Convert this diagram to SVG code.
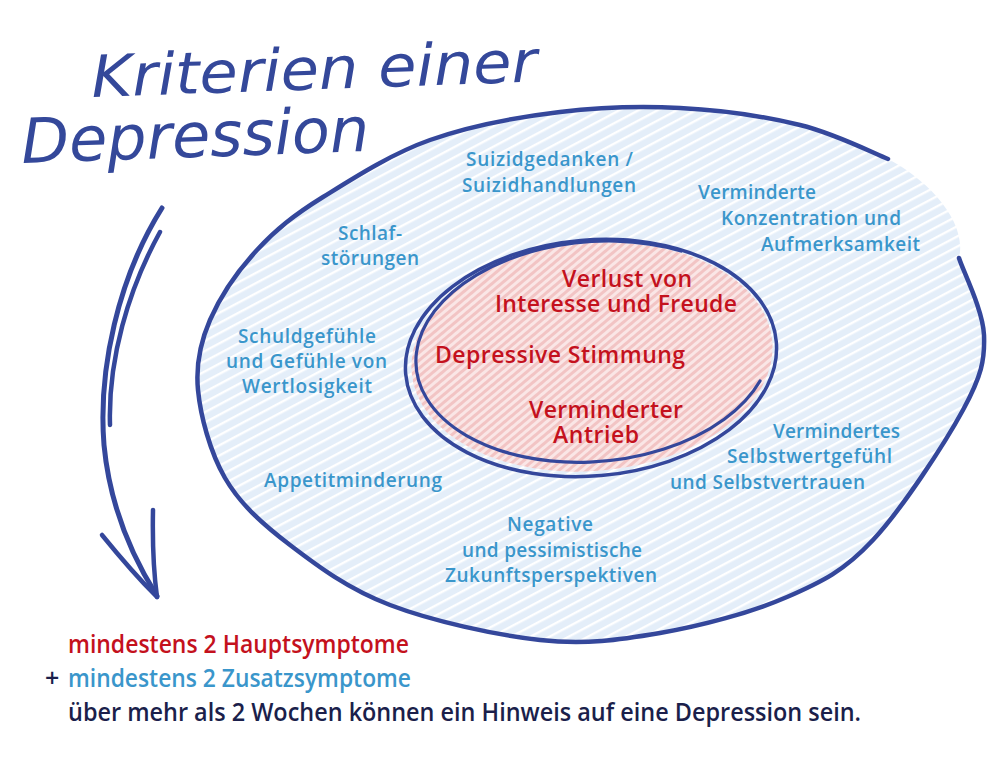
<svg xmlns="http://www.w3.org/2000/svg" width="1000" height="764" viewBox="0 0 1000 764">
  <defs>
    <pattern id="blueHatch" width="9" height="9" patternUnits="userSpaceOnUse" patternTransform="rotate(-28)">
      <rect width="9" height="9" fill="#e4eef9"/>
      <rect width="9" height="2.4" fill="#ffffff"/>
    </pattern>
    <pattern id="pinkHatch" width="8" height="6" patternUnits="userSpaceOnUse" patternTransform="rotate(-35)">
      <rect width="8" height="6" fill="#fae6e6"/>
      <rect width="8" height="3" fill="#f2c4c4"/>
    </pattern>
    <style>
      .ink { fill: none; stroke: #34479b; stroke-linecap: round; stroke-linejoin: round; }
      .lbl { font-family: "Open Sans", "Liberation Sans", sans-serif; font-weight: 600; }
      .blue { fill: #3a96cb; font-size: 19px; }
      .red { fill: #c4111d; font-size: 23px; }
      .foot { font-size: 25px; }
      .hand { font-family: "DejaVu Sans", "Liberation Sans", sans-serif; font-style: oblique; fill: #34489a; }
    </style>
  </defs>
  <rect width="1000" height="764" fill="#ffffff"/>

  <g id="title">
    <text class="hand" x="92" y="97" font-size="58" textLength="446" lengthAdjust="spacingAndGlyphs" transform="rotate(-2 92 97)">Kriterien einer</text>
    <text class="hand" x="22" y="163" font-size="62" textLength="348" lengthAdjust="spacingAndGlyphs" transform="rotate(-2 22 163)">Depression</text>
  </g>

  <g id="outer-ellipse">
    <path fill="url(#blueHatch)" d="M959,258 C963,271 983,310 984,335 C985,360 981.5,376 963,410 C944.5,444 902,509 873,540 C844,571 822.5,581.5 787,597 C751.5,612.5 701,626 660,633 C619,640 585,645 540,640 C495,635 432,621 390,605 C348,589 317.5,566 290,545 C262.5,524 240,504 225,478 C210,452 200.5,416 198,390 C195.5,364 200,343 210,320 C220,297 238,270.5 257,250 C276,229.5 294,215 323,197 C352,179 390.5,154 430,140 C469.5,126 518,117 560,112 C602,107 640,106 680,108 C720,110 765,116.5 800,125 C835,133.5 873,153 888,159 C925,178 968,220 959,258 Z"/>
    <path class="ink" stroke-width="4.5" d="M959,258 C963,271 983,310 984,335 C985,360 981.5,376 963,410 C944.5,444 902,509 873,540 C844,571 822.5,581.5 787,597 C751.5,612.5 701,626 660,633 C619,640 585,645 540,640 C495,635 432,621 390,605 C348,589 317.5,566 290,545 C262.5,524 240,504 225,478 C210,452 200.5,416 198,390 C195.5,364 200,343 210,320 C220,297 238,270.5 257,250 C276,229.5 294,215 323,197 C352,179 390.5,154 430,140 C469.5,126 518,117 560,112 C602,107 640,106 680,108 C720,110 765,116.5 800,125 C835,133.5 873,153 888,159"/>
  </g>

  <g id="inner-ellipse">
    <ellipse cx="592" cy="357" rx="181" ry="114" transform="rotate(-5 592 357)" fill="url(#pinkHatch)"/>
    <ellipse class="ink" stroke-width="3.5" cx="591" cy="358" rx="186" ry="118" transform="rotate(-5 591 358)"/>
    <path class="ink" stroke-width="3.2" d="M681,251 A178 110 -5 1 0 760,381"/>
  </g>

  <g id="main-symptoms">
    <g id="h-interesse">
      <text class="lbl red" x="562" y="287" textLength="130" lengthAdjust="spacing">Verlust von</text>
      <text class="lbl red" x="495" y="312" textLength="242" lengthAdjust="spacing">Interesse und Freude</text>
    </g>
    <g id="h-stimmung">
      <text class="lbl red" x="435" y="363" textLength="250" lengthAdjust="spacing">Depressive Stimmung</text>
    </g>
    <g id="h-antrieb">
      <text class="lbl red" x="529" y="418" textLength="154" lengthAdjust="spacing">Verminderter</text>
      <text class="lbl red" x="553" y="443" textLength="86" lengthAdjust="spacing">Antrieb</text>
    </g>
  </g>

  <g id="additional-symptoms">
    <g id="z-suizid">
      <text class="lbl blue" x="466" y="166" textLength="167" lengthAdjust="spacing">Suizidgedanken /</text>
      <text class="lbl blue" x="462" y="192" textLength="174" lengthAdjust="spacing">Suizidhandlungen</text>
    </g>
    <g id="z-konzentration">
      <text class="lbl blue" x="698" y="199" textLength="118" lengthAdjust="spacing">Verminderte</text>
      <text class="lbl blue" x="721" y="225" textLength="180" lengthAdjust="spacing">Konzentration und</text>
      <text class="lbl blue" x="761" y="251" textLength="159" lengthAdjust="spacing">Aufmerksamkeit</text>
    </g>
    <g id="z-schlaf">
      <text class="lbl blue" x="338" y="240" textLength="64" lengthAdjust="spacing">Schlaf-</text>
      <text class="lbl blue" x="321" y="265" textLength="98" lengthAdjust="spacing">störungen</text>
    </g>
    <g id="z-schuld">
      <text class="lbl blue" x="238" y="343" textLength="138" lengthAdjust="spacing">Schuldgefühle</text>
      <text class="lbl blue" x="226" y="368" textLength="161" lengthAdjust="spacing">und Gefühle von</text>
      <text class="lbl blue" x="242" y="393" textLength="130" lengthAdjust="spacing">Wertlosigkeit</text>
    </g>
    <g id="z-appetit">
      <text class="lbl blue" x="264" y="487" textLength="178" lengthAdjust="spacing">Appetitminderung</text>
    </g>
    <g id="z-selbstwert">
      <text class="lbl blue" x="773" y="438" textLength="127" lengthAdjust="spacing">Vermindertes</text>
      <text class="lbl blue" x="727" y="463" textLength="165" lengthAdjust="spacing">Selbstwertgefühl</text>
      <text class="lbl blue" x="670" y="489" textLength="195" lengthAdjust="spacing">und Selbstvertrauen</text>
    </g>
    <g id="z-zukunft">
      <text class="lbl blue" x="507" y="531" textLength="86" lengthAdjust="spacing">Negative</text>
      <text class="lbl blue" x="462" y="557" textLength="180" lengthAdjust="spacing">und pessimistische</text>
      <text class="lbl blue" x="445" y="582" textLength="212" lengthAdjust="spacing">Zukunftsperspektiven</text>
    </g>
  </g>

  <g id="connectors">
    <path class="ink" stroke-width="5" d="M162,208 C118,278 98,370 104,445 C110,508 133,558 157,596"/>
    <path class="ink" stroke-width="4.5" d="M160,232 C128,290 108,360 110,425"/>
    <path class="ink" stroke-width="4.5" d="M102,535 Q132,572 157,597"/>
    <path class="ink" stroke-width="4.5" d="M153,510 Q152,560 157,597"/>
  </g>

  <g id="legend">
    <text class="lbl foot" x="68" y="653" fill="#c4111d" textLength="341" lengthAdjust="spacingAndGlyphs">mindestens 2 Hauptsymptome</text>
    <text class="lbl foot" x="45" y="687" fill="#1b1f4b">+</text>
    <text class="lbl foot" x="68" y="687" fill="#3a96cb" textLength="343" lengthAdjust="spacingAndGlyphs">mindestens 2 Zusatzsymptome</text>
    <text class="lbl foot" x="68" y="721" fill="#1b1f4b" textLength="793" lengthAdjust="spacingAndGlyphs">über mehr als 2 Wochen können ein Hinweis auf eine Depression sein.</text>
  </g>
</svg>
